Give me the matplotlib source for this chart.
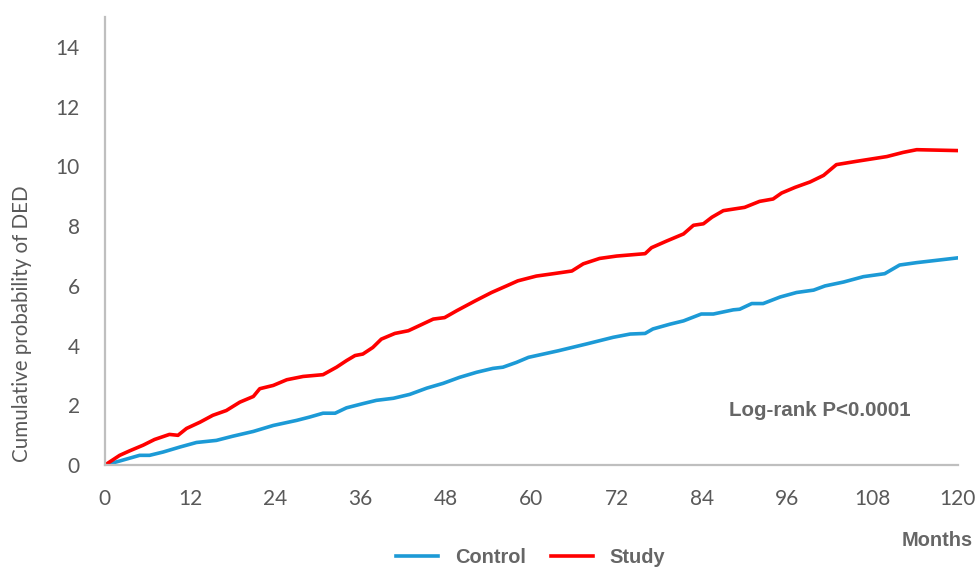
import numpy as np
import matplotlib
matplotlib.use("Agg")
import matplotlib.pyplot as plt

# Cumulative probability of DED (%)
control_months = [0, 2.1, 4.9, 6.3, 8.2, 10.6, 12.9, 15.7, 18.0, 20.9, 23.7, 27.0, 28.8,
                  30.7, 32.4, 34.0, 36.3, 38.2, 40.6, 42.9, 45.3, 47.6, 49.9, 52.3, 54.6,
                  56.0, 57.9, 59.6, 63.8, 67.8, 71.5, 73.9, 76.0, 77.1, 79.5, 81.4, 83.9,
                  85.6, 88.4, 89.3, 91.0, 92.6, 95.0, 97.3, 99.7, 101.3, 103.9, 106.7,
                  109.7, 111.8, 114.2, 120.0]
control_prob = [0, 0.14, 0.33, 0.33, 0.44, 0.61, 0.76, 0.83, 0.97, 1.13, 1.33, 1.50, 1.61,
                1.74, 1.74, 1.92, 2.06, 2.17, 2.24, 2.37, 2.58, 2.74, 2.94, 3.11, 3.24,
                3.28, 3.44, 3.61, 3.83, 4.06, 4.28, 4.39, 4.41, 4.56, 4.72, 4.83, 5.06,
                5.06, 5.20, 5.22, 5.41, 5.41, 5.63, 5.78, 5.86, 6.00, 6.13, 6.31,
                6.41, 6.70, 6.78, 6.94]

study_months = [0, 2.1, 3.5, 5.4, 7.0, 9.1, 10.3, 11.5, 13.4, 15.2, 17.1, 19.0, 20.9,
                21.8, 23.7, 25.6, 27.9, 30.7, 32.6, 34.0, 35.2, 36.3, 37.7, 38.9, 40.8,
                42.7, 44.5, 46.2, 47.8, 49.5, 52.1, 54.4, 56.5, 58.1, 60.7, 63.1, 65.7,
                67.3, 69.6, 72.0, 76.0, 76.9, 79.0, 81.4, 82.8, 84.2, 85.4, 87.0, 90.0,
                92.1, 94.0, 95.2, 97.1, 99.2, 101.1, 102.9, 105.7, 110.0, 112.3, 114.2,
                120.0]
study_prob = [0, 0.33, 0.48, 0.67, 0.86, 1.03, 1.00, 1.23, 1.44, 1.67, 1.83, 2.11, 2.30,
              2.56, 2.67, 2.86, 2.97, 3.03, 3.28, 3.50, 3.67, 3.72, 3.94, 4.22, 4.41,
              4.50, 4.70, 4.89, 4.94, 5.17, 5.50, 5.78, 6.00, 6.17, 6.33, 6.41, 6.50,
              6.74, 6.92, 7.00, 7.08, 7.28, 7.50, 7.74, 8.03, 8.08, 8.30, 8.52, 8.63,
              8.83, 8.91, 9.11, 9.30, 9.48, 9.70, 10.06, 10.17, 10.33, 10.47, 10.56,
              10.53]

x_ticks = list(range(0, 121, 12))
y_ticks = list(range(0, 15, 2))

tick_grey = "#595959"
text_grey = "#666666"
spine_grey = "#bfbfbf"

fig = plt.figure(figsize=(9.79, 5.68), dpi=100)
ax = fig.add_axes([0.107, 0.181, 0.8715, 0.789])

ax.plot(control_months, control_prob, color="#1c9ad6", lw=2.6, label="Control")
ax.plot(study_months, study_prob, color="#ff0000", lw=2.6, label="Study")

ax.set_xlim(0, 120)
ax.set_ylim(0, 15)
ax.set_xticks(x_ticks)
ax.set_yticks(y_ticks)
ax.tick_params(length=0, labelsize=15, labelcolor=tick_grey)
ax.tick_params(axis="x", pad=17)
ax.tick_params(axis="y", pad=18)
for lab in ax.get_xticklabels() + ax.get_yticklabels():
    lab.set_family("Lato")

for side in ["top", "right"]:
    ax.spines[side].set_visible(False)
for side in ["left", "bottom"]:
    ax.spines[side].set_color(spine_grey)
    ax.spines[side].set_linewidth(1.6)

fig.text(0.022, 0.43, "Cumulative probability of DED", rotation=90,
         ha="center", va="center", fontsize=14.8, color=tick_grey, family="Lato")

fig.text(0.745, 0.278, "Log-rank P<0.0001", ha="left", va="center",
         fontsize=14.8, fontweight="bold", color=text_grey, family="Liberation Sans")
fig.text(0.994, 0.049, "Months", ha="right", va="center",
         fontsize=14.4, fontweight="bold", color=text_grey, family="Liberation Sans")

leg = fig.legend(loc="center", bbox_to_anchor=(0.542, 0.019), ncol=2, frameon=False,
                 handlelength=2.1, handletextpad=0.85, columnspacing=1.25,
                 borderpad=0, borderaxespad=0,
                 prop={"family": "Liberation Sans", "weight": "bold", "size": 14.4})
for t in leg.get_texts():
    t.set_color(text_grey)

fig.savefig("out.png", dpi=100)
